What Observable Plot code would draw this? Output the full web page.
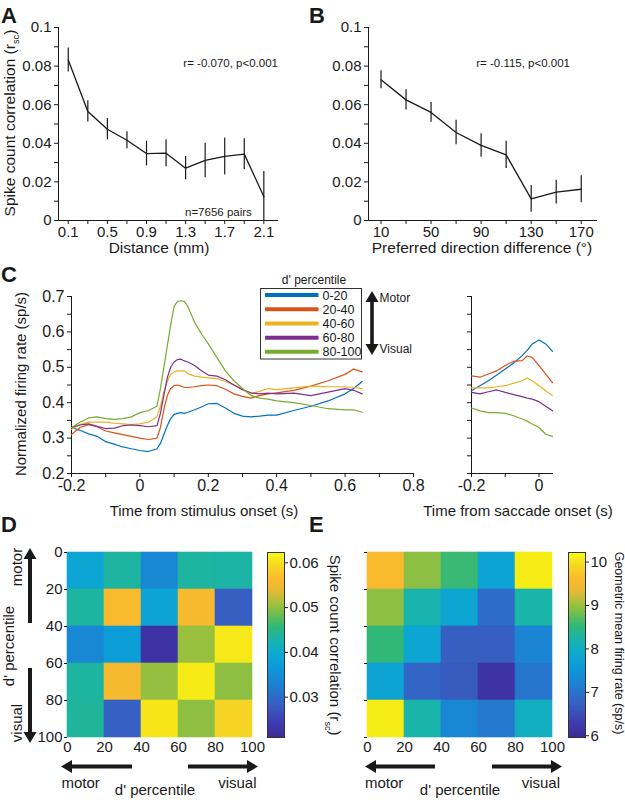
<!DOCTYPE html>
<html>
<head>
<meta charset="utf-8">
<script src="https://cdn.jsdelivr.net/npm/d3@7"></script>
<script src="https://cdn.jsdelivr.net/npm/@observablehq/plot@0.6"></script>
<style>
  body { margin: 0; background: #fff; }
  #fig { position: relative; width: 625px; height: 800px; font-family: "Liberation Sans", Arial, Helvetica, sans-serif; }
  #fig svg { position: absolute; left: 0; top: 0; }
</style>
</head>
<body>
<div id="fig"></div>
<script>
// ---------------- data ----------------
// Panel A: spike count correlation vs distance
const distA = [0.1, 0.3, 0.5, 0.7, 0.9, 1.1, 1.3, 1.5, 1.7, 1.9, 2.1];
const rscA  = [0.0832, 0.0565, 0.0473, 0.0416, 0.0347, 0.0349, 0.0271, 0.0311, 0.0332, 0.0344, 0.0124];
const errA  = [0.0062, 0.0055, 0.0055, 0.0044, 0.0064, 0.0070, 0.0060, 0.0089, 0.0096, 0.0080, 0.0130];

// Panel B: spike count correlation vs preferred direction difference
const dirB = [10, 30, 50, 70, 90, 110, 130, 150, 170];
const rscB = [0.0729, 0.0625, 0.0560, 0.0456, 0.0389, 0.0340, 0.0112, 0.0147, 0.0162];
const errB = [0.0047, 0.0052, 0.0051, 0.0063, 0.0061, 0.0071, 0.0069, 0.0062, 0.0070];

// Panel C: normalized firing rate by d' percentile
const pctLabels = ["0-20", "20-40", "40-60", "60-80", "80-100"];
const pctColors = ["#0072BD", "#D95319", "#EDB120", "#7E2F8E", "#77AC30"];

const stimT = [-0.2, -0.175, -0.15, -0.125, -0.1, -0.075, -0.05, -0.025, 0, 0.025, 0.05, 0.06, 0.07, 0.08, 0.09, 0.1,
  0.11, 0.12, 0.13, 0.14, 0.16, 0.18, 0.2, 0.225, 0.25, 0.275, 0.3, 0.325, 0.35, 0.375, 0.4, 0.45, 0.5, 0.55, 0.6, 0.625, 0.65];
const stim0_20 = [0.33, 0.322, 0.312, 0.305, 0.29, 0.283, 0.275, 0.27, 0.265, 0.262, 0.27, 0.285, 0.31, 0.335, 0.355, 0.367,
  0.37, 0.372, 0.37, 0.373, 0.38, 0.388, 0.397, 0.398, 0.385, 0.37, 0.362, 0.36, 0.362, 0.365, 0.365, 0.378, 0.39, 0.405, 0.425, 0.44, 0.46];
const stim20_40 = [0.31, 0.33, 0.338, 0.332, 0.32, 0.315, 0.31, 0.305, 0.3, 0.296, 0.3, 0.33, 0.38, 0.42, 0.44, 0.448,
  0.45, 0.447, 0.443, 0.443, 0.445, 0.448, 0.45, 0.448, 0.438, 0.425, 0.418, 0.413, 0.42, 0.425, 0.428, 0.435, 0.447, 0.462, 0.48, 0.495, 0.487];
const stim40_60 = [0.325, 0.338, 0.345, 0.345, 0.345, 0.342, 0.34, 0.338, 0.34, 0.345, 0.36, 0.39, 0.43, 0.46, 0.48, 0.487,
  0.49, 0.49, 0.49, 0.482, 0.475, 0.472, 0.47, 0.468, 0.46, 0.45, 0.437, 0.425, 0.432, 0.44, 0.437, 0.442, 0.447, 0.445, 0.445, 0.443, 0.44];
const stim60_80 = [0.33, 0.337, 0.34, 0.333, 0.327, 0.328, 0.335, 0.337, 0.335, 0.332, 0.335, 0.37, 0.42, 0.47, 0.5, 0.515,
  0.522, 0.523, 0.518, 0.515, 0.505, 0.49, 0.478, 0.475, 0.465, 0.45, 0.437, 0.428, 0.425, 0.427, 0.425, 0.427, 0.42, 0.43, 0.44, 0.435, 0.425];
const stim80_100 = [0.33, 0.345, 0.357, 0.36, 0.355, 0.353, 0.355, 0.36, 0.372, 0.378, 0.39, 0.44, 0.5, 0.56, 0.62, 0.672,
  0.686, 0.688, 0.686, 0.672, 0.627, 0.594, 0.566, 0.528, 0.49, 0.462, 0.44, 0.42, 0.413, 0.41, 0.405, 0.4, 0.392, 0.383, 0.38, 0.38, 0.373];

const sacT = [-0.2, -0.175, -0.15, -0.125, -0.1, -0.075, -0.05, -0.035, -0.02, 0, 0.02, 0.04];
const sac0_20   = [0.434, 0.448, 0.462, 0.478, 0.495, 0.512, 0.533, 0.548, 0.566, 0.577, 0.566, 0.545];
const sac20_40  = [0.476, 0.472, 0.481, 0.49, 0.505, 0.517, 0.519, 0.532, 0.528, 0.505, 0.481, 0.457];
const sac40_60  = [0.442, 0.442, 0.442, 0.445, 0.448, 0.455, 0.462, 0.47, 0.462, 0.448, 0.434, 0.42];
const sac60_80  = [0.429, 0.425, 0.431, 0.436, 0.429, 0.423, 0.417, 0.413, 0.41, 0.403, 0.39, 0.377];
const sac80_100 = [0.385, 0.377, 0.372, 0.372, 0.37, 0.363, 0.354, 0.348, 0.34, 0.33, 0.311, 0.305];

// Panels D, E: 5x5 matrices (rows: d' percentile 0-20 ... 80-100 top to bottom)
const pctEdges = [0, 20, 40, 60, 80, 100];
const rscD = [
  [0.0390, 0.0435, 0.0340, 0.0435, 0.0432],
  [0.0435, 0.0562, 0.0388, 0.0556, 0.0284],
  [0.0340, 0.0374, 0.0226, 0.0505, 0.0607],
  [0.0435, 0.0557, 0.0503, 0.0610, 0.0500],
  [0.0438, 0.0286, 0.0605, 0.0500, 0.0590]
];
const rateE = [
  [9.58, 8.94, 8.56, 7.79, 10.10],
  [8.94, 8.20, 7.83, 6.90, 8.22],
  [8.52, 7.83, 6.73, 6.72, 7.24],
  [7.80, 6.81, 6.68, 6.13, 7.03],
  [10.10, 8.22, 7.28, 7.07, 8.05]
];
const cbDomainD = [0.021, 0.0623];
const cbTicksD = [0.03, 0.04, 0.05, 0.06];
const cbDomainE = [5.96, 10.22];
const cbTicksE = [6, 7, 8, 9, 10];

// tick values
const yMajorAB = [0, 0.02, 0.04, 0.06, 0.08, 0.1];
const yMinorAB = [0.01, 0.03, 0.05, 0.07, 0.09];
const xMajorA = [0.1, 0.5, 0.9, 1.3, 1.7, 2.1];
const xMinorA = [0.3, 0.7, 1.1, 1.5, 1.9];
const xMajorB = [10, 50, 90, 130, 170];
const xMinorB = [30, 70, 110, 150];
const yMajorC = [0.2, 0.3, 0.4, 0.5, 0.6, 0.7];
const yMinorC = [0.25, 0.35, 0.45, 0.55, 0.65];
const xMajorC = [-0.2, 0, 0.2, 0.4, 0.6, 0.8];
const xMinorC = [-0.1, 0.1, 0.3, 0.5, 0.7];
const xMajorC2 = [-0.2, 0];
const xMinorC2 = [-0.1];

// parula-like colormap stops
const parulaPos = [0, 0.08, 0.18, 0.28, 0.38, 0.46, 0.53, 0.60, 0.67, 0.73, 0.79, 0.86, 0.93, 1];
const parulaCol = ["#3d2a95", "#3e3cb3", "#375fc2", "#1f7fd2", "#0c9ad9", "#0eaad0", "#19b4aa", "#30b87a",
  "#70be4e", "#a8c03a", "#e6b935", "#fcba2c", "#f5d822", "#f9fb0e"];

// ---------------- helpers ----------------
const W = 625, H = 800;
const FONT = '"Liberation Sans", Arial, Helvetica, sans-serif';
const INK = "#1a1a1a";
const fig = document.getElementById("fig");
const parulaScale = d3.scaleLinear().domain(parulaPos).range(parulaCol).interpolate(d3.interpolateRgb).clamp(true);
const parulaT = (t) => parulaScale(t);
const fmt = (d) => String(d);
const blank = () => "";

function panel(box, fs, opts) {
  const svg = Plot.plot(Object.assign({
    width: W, height: H,
    marginLeft: box.l, marginRight: W - box.r, marginTop: box.t, marginBottom: H - box.b,
    style: { background: "transparent", fontFamily: FONT, fontSize: fs + "px", color: INK }
  }, opts));
  fig.appendChild(svg);
  return svg;
}

// ---------------- Panel A ----------------
const dataA = distA.map((d, i) => ({ d, r: rscA[i], e: errA[i] }));
panel({ l: 58, r: 278, t: 27, b: 220 }, 15, {
  x: { domain: [0, 2.25], label: null },
  y: { domain: [0, 0.1], label: null },
  marks: [
    Plot.ruleX([0], { stroke: INK }),
    Plot.ruleY([0], { stroke: INK }),
    Plot.axisY(yMajorAB, { tickSize: 4, tickPadding: 3, tickFormat: fmt, label: null }),
    Plot.axisY(yMinorAB, { tickSize: 4, tickFormat: blank, label: null }),
    Plot.axisX(xMajorA, { tickSize: 4, tickPadding: 2, tickFormat: fmt, label: null }),
    Plot.axisX(xMinorA, { tickSize: 4, tickFormat: blank, label: null }),
    Plot.ruleX(dataA, { x: "d", y1: (d) => Math.max(0, d.r - d.e), y2: (d) => d.r + d.e, stroke: INK, strokeWidth: 1.2 }),
    Plot.line(dataA, { x: "d", y: "r", stroke: INK, strokeWidth: 1.3 })
  ]
});

// ---------------- Panel B ----------------
const dataB = dirB.map((d, i) => ({ d, r: rscB[i], e: errB[i] }));
panel({ l: 368, r: 597, t: 27, b: 220 }, 15, {
  x: { domain: [0, 183], label: null },
  y: { domain: [0, 0.1], label: null },
  marks: [
    Plot.ruleX([0], { stroke: INK }),
    Plot.ruleY([0], { stroke: INK }),
    Plot.axisY(yMajorAB, { tickSize: 4, tickPadding: 3, tickFormat: fmt, label: null }),
    Plot.axisY(yMinorAB, { tickSize: 4, tickFormat: blank, label: null }),
    Plot.axisX(xMajorB, { tickSize: 4, tickPadding: 2, tickFormat: fmt, label: null }),
    Plot.axisX(xMinorB, { tickSize: 4, tickFormat: blank, label: null }),
    Plot.ruleX(dataB, { x: "d", y1: (d) => Math.max(0, d.r - d.e), y2: (d) => d.r + d.e, stroke: INK, strokeWidth: 1.2 }),
    Plot.line(dataB, { x: "d", y: "r", stroke: INK, strokeWidth: 1.3 })
  ]
});

// ---------------- Panel C ----------------
const stimSeries = [stim0_20, stim20_40, stim40_60, stim60_80, stim80_100];
const sacSeries = [sac0_20, sac20_40, sac40_60, sac60_80, sac80_100];
const stimRows = [], sacRows = [];
pctLabels.forEach((lab, i) => {
  stimT.forEach((t, j) => stimRows.push({ t, v: stimSeries[i][j], s: lab }));
  sacT.forEach((t, j) => sacRows.push({ t, v: sacSeries[i][j], s: lab }));
});
const colorC = { domain: pctLabels, range: pctColors };

panel({ l: 71, r: 413, t: 296, b: 473 }, 16, {
  x: { domain: [-0.2, 0.8], label: null },
  y: { domain: [0.2, 0.7], label: null },
  color: colorC,
  marks: [
    Plot.ruleX([-0.2], { stroke: INK }),
    Plot.ruleY([0.2], { stroke: INK }),
    Plot.axisY(yMajorC, { tickSize: 4, tickPadding: 3, tickFormat: fmt, label: null }),
    Plot.axisY(yMinorC, { tickSize: 4, tickFormat: blank, label: null }),
    Plot.axisX(xMajorC, { tickSize: 4, tickPadding: 2, tickFormat: fmt, label: null }),
    Plot.axisX(xMinorC, { tickSize: 4, tickFormat: blank, label: null }),
    Plot.line(stimRows, { x: "t", y: "v", z: "s", stroke: "s", strokeWidth: 1.2 })
  ]
});

panel({ l: 471, r: 553, t: 296, b: 473 }, 16, {
  x: { domain: [-0.2, 0.043], label: null },
  y: { domain: [0.2, 0.7], label: null },
  color: colorC,
  marks: [
    Plot.ruleX([-0.2], { stroke: INK }),
    Plot.ruleY([0.2], { stroke: INK }),
    Plot.axisY(yMajorC.concat(yMinorC), { tickSize: 4, tickFormat: blank, label: null }),
    Plot.axisX(xMajorC2, { tickSize: 4, tickPadding: 2, tickFormat: fmt, label: null }),
    Plot.axisX(xMinorC2, { tickSize: 4, tickFormat: blank, label: null }),
    Plot.line(sacRows, { x: "t", y: "v", z: "s", stroke: "s", strokeWidth: 1.2 })
  ]
});

// ---------------- Panels D, E ----------------
function cells(m) {
  const out = [];
  m.forEach((row, r) => row.forEach((v, c) =>
    out.push({ x1: pctEdges[c], x2: pctEdges[c + 1], y1: pctEdges[r], y2: pctEdges[r + 1], v })));
  return out;
}
function heat(box, matrix, domain, showYLabels) {
  panel(box, 15, {
    x: { domain: [0, 100], label: null },
    y: { domain: [0, 100], reverse: true, label: null },
    color: { type: "linear", domain, interpolate: parulaT },
    marks: [
      Plot.rect(cells(matrix), { x1: "x1", x2: "x2", y1: "y1", y2: "y2", fill: "v", stroke: "v", strokeWidth: 0.6, inset: 0 }),
      Plot.axisY(pctEdges, { tickSize: 3, tickPadding: 2, tickFormat: showYLabels ? fmt : blank, label: null }),
      Plot.axisX(pctEdges, { tickSize: 0, tickPadding: 4, tickFormat: fmt, label: null })
    ]
  });
}
function colorbar(box, domain, ticks) {
  panel(box, 15, {
    x: { domain: [0, 1], axis: null },
    y: { domain, label: null },
    marks: [
      Plot.frame({ fill: "url(#parulaGrad)", stroke: "#333" }),
      Plot.axisY(ticks, { anchor: "right", tickSize: 3, tickPadding: 2, tickFormat: fmt, label: null })
    ]
  });
}
heat({ l: 67, r: 252, t: 552, b: 737 }, rscD, cbDomainD, true);
colorbar({ l: 267, r: 284, t: 552, b: 737 }, cbDomainD, cbTicksD);
heat({ l: 367, r: 552, t: 552, b: 737 }, rateE, cbDomainE, false);
colorbar({ l: 568, r: 585, t: 552, b: 737 }, cbDomainE, cbTicksE);

// ---------------- overlay: text, legend, arrows ----------------
const ov = d3.select(fig).append("svg").attr("width", W).attr("height", H)
  .style("font-family", FONT).style("overflow", "visible");
const grad = ov.append("defs").append("linearGradient").attr("id", "parulaGrad")
  .attr("x1", 0).attr("y1", 1).attr("x2", 0).attr("y2", 0);
parulaPos.forEach((p, i) => grad.append("stop").attr("offset", p).attr("stop-color", parulaCol[i]));

function text(x, y, str, o = {}) {
  const t = ov.append("text").attr("x", 0).attr("y", 0)
    .attr("transform", `translate(${x},${y})` + (o.rotate ? ` rotate(${o.rotate})` : ""))
    .attr("font-size", o.size || 15).attr("fill", INK)
    .attr("text-anchor", o.anchor || "start")
    .attr("font-weight", o.weight || "normal");
  if (o.sub) {
    const s = o.size || 15;
    t.append("tspan").text(str);
    t.append("tspan").attr("font-size", s * 0.6).attr("dy", s * 0.28).text(o.sub);
    t.append("tspan").attr("dy", -s * 0.28).text(o.after || "");
  } else t.text(str);
  return t;
}
function arrow(x1, y1, x2, y2, w = 4, hl = 11, hw = 6.5) {
  const dx = x2 - x1, dy = y2 - y1, L = Math.hypot(dx, dy), ux = dx / L, uy = dy / L;
  const bx = x2 - ux * hl, by = y2 - uy * hl;
  ov.append("line").attr("x1", x1).attr("y1", y1).attr("x2", bx + ux).attr("y2", by + uy)
    .attr("stroke", INK).attr("stroke-width", w);
  ov.append("polygon").attr("fill", INK)
    .attr("points", `${x2},${y2} ${bx - uy * hw},${by + ux * hw} ${bx + uy * hw},${by - ux * hw}`);
}

// panel letters
[["A", 1, 22.5], ["B", 309, 22.5], ["C", 1, 282], ["D", 1, 532], ["E", 309, 532]]
  .forEach(([s, x, y]) => text(x, y, s, { size: 22, weight: "bold" }));

// A / B labels
text(14.5, 123, "Spike count correlation (r", { size: 15.5, rotate: -90, anchor: "middle", sub: "sc", after: ")" });
text(159, 253, "Distance (mm)", { size: 15.5, anchor: "middle" });
text(482, 253, "Preferred direction difference (°)", { size: 15.5, anchor: "middle" });
text(278, 67, "r= -0.070, p<0.001", { size: 11.5, anchor: "end" });
text(185, 216, "n=7656 pairs", { size: 11.5 });
text(570, 67, "r= -0.115, p<0.001", { size: 11.5, anchor: "end" });

// C labels
text(26, 384, "Normalized firing rate (sp/s)", { size: 15, rotate: -90, anchor: "middle" });
text(204, 516, "Time from stimulus onset (s)", { size: 15, anchor: "middle" });
text(518, 516, "Time from saccade onset (s)", { size: 15, anchor: "middle" });

// C legend
text(314, 284, "d' percentile", { size: 12, anchor: "middle" });
ov.append("rect").attr("x", 260.5).attr("y", 288.5).attr("width", 101).attr("height", 70.5)
  .attr("fill", "white").attr("stroke", "#333").attr("stroke-width", 1);
const legRows = [295, 309.3, 323.5, 337.7, 351.7];
pctLabels.forEach((lab, i) => {
  ov.append("line").attr("x1", 265).attr("x2", 318.5).attr("y1", legRows[i]).attr("y2", legRows[i])
    .attr("stroke", pctColors[i]).attr("stroke-width", 4);
  text(322.5, legRows[i] + 4.5, lab, { size: 12.5 });
});
arrow(372, 323, 372, 291, 3.6, 11, 6.5);
arrow(372, 323, 372, 355, 3.6, 11, 6.5);
text(379.5, 302, "Motor", { size: 12 });
text(379.5, 353, "Visual", { size: 12 });

// D labels and arrows
arrow(30, 623, 30, 548, 4, 11, 6.5);
arrow(30, 668, 30, 743, 4, 11, 6.5);
text(21.5, 567, "motor", { size: 15, rotate: -90, anchor: "middle" });
text(14, 646, "d' percentile", { size: 15, rotate: -90, anchor: "middle" });
text(21.5, 723, "visual", { size: 15, rotate: -90, anchor: "middle" });
arrow(132, 766.5, 61, 766.5, 4, 11, 6.5);
arrow(188, 766.5, 258, 766.5, 4, 11, 6.5);
text(61.5, 788, "motor", { size: 15 });
text(256.5, 788, "visual", { size: 15, anchor: "end" });
text(155, 795, "d' percentile", { size: 15, anchor: "middle" });
text(329.5, 645, "Spike count correlation (r", { size: 15, rotate: 90, anchor: "middle", sub: "sc", after: ")" });

// E labels and arrows
arrow(435, 766.5, 365, 766.5, 4, 11, 6.5);
arrow(492, 766.5, 562, 766.5, 4, 11, 6.5);
text(365, 788, "motor", { size: 15 });
text(560, 788, "visual", { size: 15, anchor: "end" });
text(460, 795, "d' percentile", { size: 15, anchor: "middle" });
text(614.5, 643, "Geometric mean firing rate (sp/s)", { size: 12.5, rotate: 90, anchor: "middle" });
</script>
</body>
</html>
